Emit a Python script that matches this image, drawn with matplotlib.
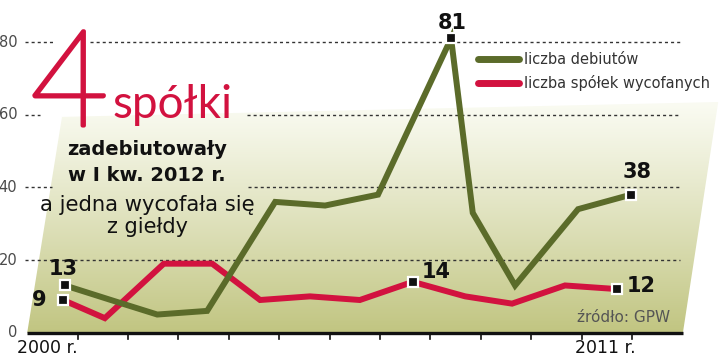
import numpy as np
import matplotlib.pyplot as plt
import matplotlib.patheffects as pe
from matplotlib.patches import Polygon
from matplotlib.colors import to_rgb
from matplotlib.lines import Line2D

# data: liczba debiutów / spółek wycofanych na GPW, 2000-2011
green_x = [2000.04, 2000.95, 2001.87, 2002.86, 2004.21, 2005.2, 2006.25, 2007.7, 2008.13, 2008.97, 2010.22, 2011.27]
debiuty = [13, 9, 5, 6, 36, 35, 38, 81, 33, 13, 34, 38]
red_x = [2000, 2000.83, 2002, 2002.96, 2003.91, 2004.9, 2005.89, 2006.94, 2007.98, 2008.91, 2009.96, 2011]
wycofane = [9, 4, 19, 19, 9, 10, 9, 14, 10, 8, 13, 12]
years = list(range(2000, 2012))
yticks = [0, 20, 40, 60, 80]

GREEN = '#5b6b2a'
RED = '#d2123f'

fig = plt.figure(figsize=(7.2, 3.63), dpi=100)
ax = fig.add_axes([0, 0, 1, 1])
ax.set_xlim(2000 - 63 / 50.4, 2000 + (720 - 63) / 50.4)
ax.set_ylim((332.7 - 363) / 3.633, 332.7 / 3.633)
ax.axis('off')

# gradient background (slanted panel)
poly = Polygon([(1999.29, 0), (1999.98, 59.4), (2013.0, 63.5), (2012.30, 0)],
               closed=True, facecolor='none', edgecolor='none')
ax.add_patch(poly)
top, bot = np.array(to_rgb('#fafbf2')), np.array(to_rgb('#c1c581'))
t = np.linspace(0, 1, 256)[:, None] ** 1.1
grad = (top * (1 - t) + bot * t)[:, None, :]
im = ax.imshow(grad, extent=[1999.2, 2013.1, 0, 63.5], aspect='auto', zorder=0)
im.set_clip_path(poly)

# dotted gridlines (gaps where the headline sits)
grid_segments = {80: [(1999.25, 1999.80), (2000.54, 2012.24)],
                 60: [(1999.25, 1999.54), (2003.65, 2012.24)],
                 40: [(1999.25, 1999.78), (2003.67, 2012.24)],
                 20: [(1999.25, 2012.24)]}
for yv, segs in grid_segments.items():
    for a, b in segs:
        ax.plot([a, b], [yv, yv], color='#333333', lw=1.0, ls=(0, (2.2, 2.2)), zorder=1)

for yv in yticks:
    ax.text(1999.09, yv, str(yv), ha='right', va='center', fontsize=10.5, color='#4a4a4a')

# x axis
ax.plot([1999.29, 2012.30], [0, 0], color='#111111', lw=2.4, solid_capstyle='butt', zorder=3)
for yr in years:
    ax.plot([yr + 0.29, yr + 0.29], [0, -1.8], color='#111111', lw=1.2, zorder=3)
ax.text(1999.68, -4.3, '2000 r.', ha='center', va='center', fontsize=12.5, color='#111111')
ax.text(2010.77, -4.3, '2011 r.', ha='center', va='center', fontsize=12.5, color='#111111')

# series
ax.plot(red_x, wycofane, color=RED, lw=4.3, solid_joinstyle='miter', zorder=4)
ax.plot(green_x, debiuty, color=GREEN, lw=4.3, solid_joinstyle='miter', zorder=5)

# marked values
marks = [(green_x, debiuty, 0, (-1, 12)),
         (green_x, debiuty, 7, (1, 11)),
         (green_x, debiuty, 11, (4, 16)),
         (red_x, wycofane, 0, (-17, 0)),
         (red_x, wycofane, 7, (17, 7)),
         (red_x, wycofane, 11, (17, 2))]
for xs_, ys_, i, off in marks:
    ax.plot(xs_[i], ys_[i], marker='s', ms=6.5, mfc='#111111', mec='white', mew=1.6, zorder=6)
    ax.annotate(str(ys_[i]), (xs_[i], ys_[i]), xytext=off, textcoords='offset points',
                ha='center', va='center', fontsize=15, fontweight='bold', color='#111111', zorder=7)

# headline
ax.text(2000.13, 57.0, '4', ha='center', va='baseline', fontsize=97, color=RED,
        family=['Lato', 'DejaVu Sans'], fontweight='light',
        path_effects=[pe.withStroke(linewidth=2.8, foreground=RED)])
ax.text(2000.99, 59.1, 'spółki', ha='left', va='baseline', fontsize=33, color=RED,
        family=['Lato', 'DejaVu Sans'], fontweight='normal')
ax.text(2001.67, 48.9, 'zadebiutowały', ha='center', va='baseline', fontsize=14, fontweight='bold', color='#111111')
ax.text(2001.67, 41.8, 'w I kw. 2012 r.', ha='center', va='baseline', fontsize=14, fontweight='bold', color='#111111')
ax.text(2001.67, 33.4, 'a jedna wycofała się', ha='center', va='baseline', fontsize=15.2, color='#111111')
ax.text(2001.67, 27.5, 'z giełdy', ha='center', va='baseline', fontsize=15, color='#111111')

# legend
handles = [Line2D([], [], color=GREEN, lw=5, solid_capstyle='round'),
           Line2D([], [], color=RED, lw=5, solid_capstyle='round')]
ax.legend(handles, ['liczba debiutów', 'liczba spółek wycofanych'], loc='upper left',
          bbox_to_anchor=(478 / 720, 1 - 52 / 363), frameon=False, fontsize=10.5,
          handlelength=2.8, handletextpad=0.35, labelspacing=0.55, borderpad=0, borderaxespad=0,
          labelcolor='#333333')

ax.text(2012.04, 4.3, 'źródło: GPW', ha='right', va='center', fontsize=11, color='#555555')

fig.savefig('out.png', dpi=100)
